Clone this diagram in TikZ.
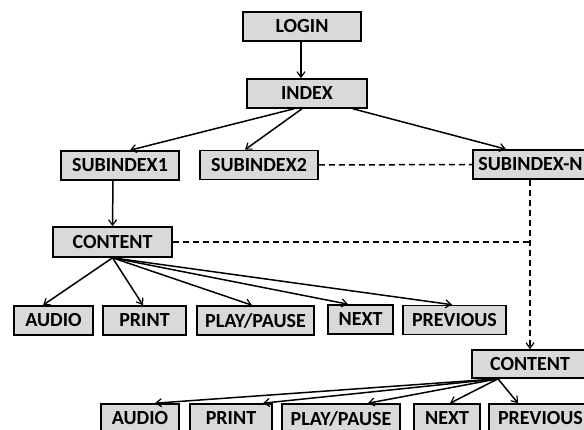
\documentclass[tikz,border=0pt]{standalone}
\usepackage{fontspec}
\setmainfont{Carlito}
\usetikzlibrary{arrows.meta,calc}
\definecolor{boxgray}{HTML}{D9D9D9}
\tikzset{
  box/.style={draw=black, fill=boxgray, line width=1.6pt, inner sep=0pt,
    minimum height=29pt, font=\fontsize{20}{23}\selectfont\bfseries, text=black},
  conn/.style={line width=1.5pt, -{Straight Barb[length=5.5pt,width=8pt,line width=1.2pt]}},
  dline/.style={line width=1.5pt, dash pattern=on 6pt off 4pt},
}
\begin{document}
\begin{tikzpicture}[x=1pt,y=-1pt]
\useasboundingbox (0,0) rectangle (584,430);
\clip (0,0) rectangle (584,430);
\node[box, minimum width=118pt] (LOGIN) at (302,26.5) {LOGIN};
\node[box, minimum width=120pt] (INDEX) at (307,93.5) {INDEX};
\node[box, minimum width=118pt] (SUB1) at (120,165.5) {SUBINDEX1};
\node[box, minimum width=118pt] (SUB2) at (259,165) {SUBINDEX2};
\node[box, anchor=west, inner xsep=5.5pt] (SUBN) at (472,164.5) {SUBINDEX-N\hspace{6pt}};
\node[box, minimum width=119pt, minimum height=30pt] (CON1) at (112.5,242) {CONTENT};
\node[box, minimum width=79pt] (AUD1) at (53.5,320.5) {AUDIO};
\node[box, minimum width=83pt] (PRI1) at (144.5,320.5) {PRINT};
\node[box, minimum width=117pt] (PLA1) at (255.5,320.5) {PLAY/PAUSE};
\node[box, minimum width=65pt] (NEX1) at (360.5,319.5) {NEXT};
\node[box, minimum width=103pt] (PRE1) at (454.5,320) {PREVIOUS};
\node[box, minimum width=116pt, minimum height=28pt] (CON2) at (530,364) {CONTENT};
\node[box, minimum width=78pt] (AUD2) at (140,418.5) {AUDIO};
\node[box, minimum width=82pt] (PRI2) at (231,418.5) {PRINT};
\node[box, minimum width=118pt] (PLA2) at (341,418.5) {PLAY/PAUSE};
\node[box, minimum width=66pt] (NEX2) at (447,418.5) {NEXT};
\node[box, minimum width=103pt] (PRE2) at (540.5,418.5) {PREVIOUS};
\coordinate (J) at (CON2.north |- CON1.east);
% top
\draw[conn] ([xshift=-1pt]LOGIN.south) -- ([xshift=-6pt]INDEX.north);
\draw[conn] ([xshift=-13pt]INDEX.south) -- ([xshift=10pt]SUB1.north);
\draw[conn] ([xshift=-5pt]INDEX.south) -- ([xshift=-14pt]SUB2.north);
\draw[conn] ([xshift=46pt]INDEX.south) -- ([xshift=34pt]SUBN.north west);
\draw[conn] ([xshift=-7pt]SUB1.south) -- ([xshift=0pt]CON1.north);
% dashed
\draw[dline] (SUB2.east) -- (SUBN.west);
\draw[dline] (CON1.east) -- (J);
\draw[dline, -{Straight Barb[length=5.5pt,width=8pt,line width=1.2pt]}] (CON2.north |- SUBN.south) -- (CON2.north);
% content 1
\draw[conn] (CON1.south) -- ([xshift=-10.5pt]AUD1.north);
\draw[conn] (CON1.south) -- ([xshift=-1.5pt]PRI1.north);
\draw[conn] (CON1.south) -- ([xshift=-3.5pt]PLA1.north);
\draw[conn] (CON1.south) -- ([xshift=-12.5pt]NEX1.north);
\draw[conn] (CON1.south) -- ([xshift=-2.5pt]PRE1.north);
% content 2
\draw[conn] ([xshift=-32pt]CON2.south) -- ([xshift=15pt]AUD2.north);
\draw[conn] ([xshift=-32pt]CON2.south) -- ([xshift=32pt]PRI2.north);
\draw[conn] ([xshift=-32pt]CON2.south) -- ([xshift=27pt]PLA2.north);
\draw[conn] ([xshift=-32pt]CON2.south) -- ([xshift=3pt]NEX2.north);
\draw[conn] ([xshift=-32pt]CON2.south) -- ([xshift=-22.5pt]PRE2.north);
\end{tikzpicture}
\end{document}
